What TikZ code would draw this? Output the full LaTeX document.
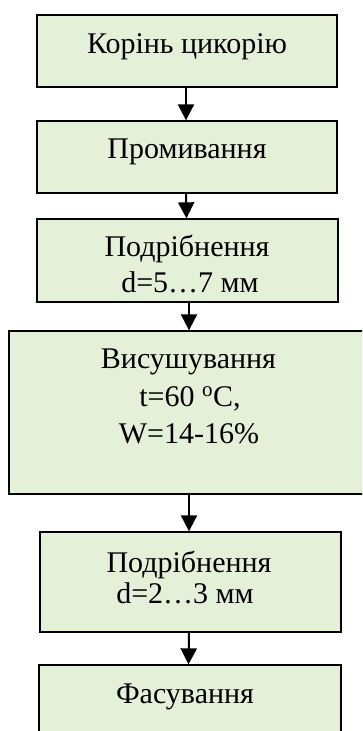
\documentclass[tikz,border=0pt]{standalone}
\usepackage{fontspec}
\setmainfont{Liberation Serif}
\usetikzlibrary{arrows.meta}
\definecolor{boxfill}{RGB}{228,240,216}
\tikzset{
  box/.style={draw=black, line width=1.3pt, fill=boxfill, inner sep=0pt},
  lbl/.style={anchor=base, inner sep=0pt, font=\fontsize{30}{36}\selectfont},
  arr/.style={line width=2pt, -{Triangle[width=16pt,length=16pt]}},
}
\begin{document}
\begin{tikzpicture}[x=1pt,y=-1pt]
\useasboundingbox (0,0) rectangle (362,731);
\clip (0,0) rectangle (362,731);
% boxes
\node[box, minimum width=300pt, minimum height=72pt] (b1) at (187,51) {};
\node[box, minimum width=300pt, minimum height=72pt] (b2) at (187,157) {};
\node[box, minimum width=301pt, minimum height=83pt] (b3) at (187.5,260.5) {};
\node[box, minimum width=361pt, minimum height=163pt] (b4) at (189.5,412.5) {};
\node[box, minimum width=301pt, minimum height=100pt] (b5) at (190.5,582) {};
\node[box, minimum width=302pt, minimum height=80pt] (b6) at (190,705) {};
% texts
\node[lbl] (t1) at (187,53) {Корінь цикорію};
\node[lbl] (t2) at (187,158) {Промивання};
\node[lbl] (t3a) at (187,256) {Подрібнення};
\node[lbl] (t3b) at (190,292) {d=5…7 мм};
\node[lbl] (t4a) at (188.5,368) {Висушування};
\node[lbl] (t4b) at (190,406) {t=60 \textsuperscript{o}C,};
\node[lbl] (t4c) at (189,443) {W=14-16\%};
\node[lbl] (t5a) at (189,572) {Подрібнення};
\node[lbl] (t5b) at (185,603) {d=2…3 мм};
\node[lbl] (t6) at (185,703) {Фасування};
% arrows
\draw[arr] ([xshift=-1pt]b1.south) -- ([xshift=-1pt]b2.north);
\draw[arr] ([xshift=-1pt]b2.south) -- ([xshift=-1pt]b3.north);
\draw[arr] ([xshift=1.5pt]b3.south) -- ([xshift=1.5pt]b3.south |- b4.north);
\draw[arr] ([xshift=-0.5pt]b4.south) -- ([xshift=-0.5pt]b4.south |- b5.north);
\draw[arr] ([xshift=-1.5pt]b5.south) -- ([xshift=-1.5pt]b6.north);
\end{tikzpicture}
\end{document}
